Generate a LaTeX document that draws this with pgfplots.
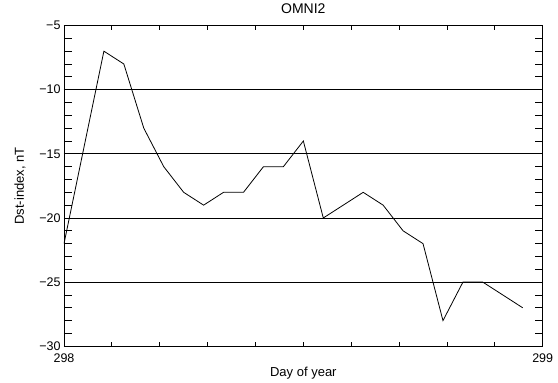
\documentclass[border=0pt]{standalone}
\usepackage{pgfplots}
\pgfplotsset{compat=1.18}
\usepackage{fontspec}
\setmainfont{Liberation Sans}
\begin{document}
\begin{tikzpicture}
\useasboundingbox (-64pt,-36.7pt) rectangle (494pt,346.3pt);
\begin{axis}[
  at={(0,0)}, anchor=south west,
  scale only axis, width=478.7pt, height=320.8pt,
  xmin=298, xmax=299, ymin=-30, ymax=-5,
  xtick={298,298.1,298.2,298.3,298.4,298.5,298.6,298.7,298.8,298.9,299},
  xticklabels={298,,,,,,,,,,299},
  ytick={-30,-25,-20,-15,-10,-5},
  yticklabels={−30,−25,−20,−15,−10,−5},
  minor y tick num=4,
  tick align=inside,
  major tick length=4pt, minor tick length=8pt,
  ymajorgrids, major grid style={black, line width=0.8pt},
  axis line style={black, line width=0.8pt},
  tick style={black, line width=0.8pt},
  every tick label/.append style={font=\fontsize{12.5}{14}\selectfont},
  xticklabel style={yshift=-4pt},
  label style={font=\fontsize{13}{15}\selectfont},
  xlabel={Day of year},
  ylabel={Dst-index, nT},
  x label style={at={(axis description cs:0.5,-0.083)}, anchor=center},
  y label style={at={(axis description cs:-0.092,0.5)}, anchor=center, rotate=0},
  title={OMNI2},
  title style={at={(axis description cs:0.5,1.0337)}, anchor=center, font=\fontsize{14}{16}\selectfont},
]
\addplot[black, line width=0.8pt] table {
x y
298.000000 -22
298.041667 -14.5
298.083333 -7
298.125000 -8
298.166667 -13
298.208333 -16
298.250000 -18
298.291667 -19
298.333333 -18
298.375000 -18
298.416667 -16
298.458333 -16
298.500000 -14
298.541667 -20
298.583333 -19
298.625000 -18
298.666667 -19
298.708333 -21
298.750000 -22
298.791667 -28
298.833333 -25
298.875000 -25
298.916667 -26
298.958333 -27
};
\end{axis}
\end{tikzpicture}
\end{document}
